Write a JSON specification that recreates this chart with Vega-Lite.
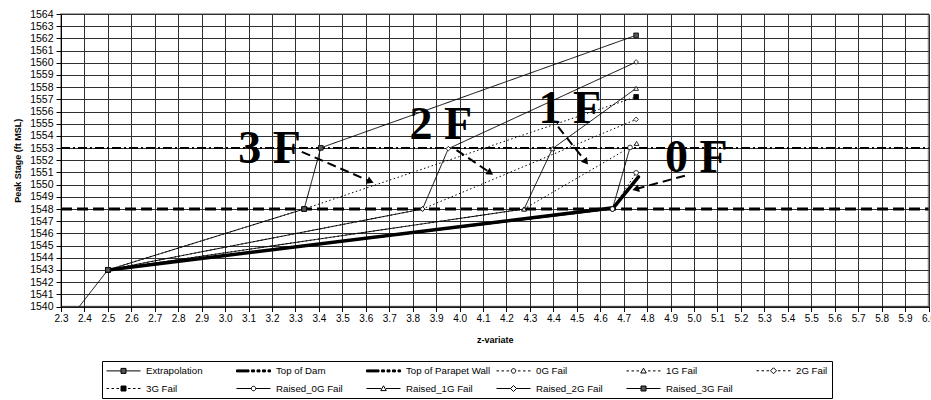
{
  "$schema": "https://vega.github.io/schema/vega-lite/v6.json",
  "width": 867.5,
  "height": 292.5,
  "autosize": {"type": "none"},
  "padding": {"left": 61, "top": 14, "right": 2.5, "bottom": 93.5},
  "background": "white",
  "config": {
    "font": "Liberation Sans",
    "view": {"stroke": "#888", "strokeWidth": 1.5},
    "axis": {
      "labelFont": "Liberation Sans",
      "labelColor": "black",
      "labelFontSize": 10,
      "titleFont": "Liberation Sans",
      "titleFontSize": 9,
      "titleFontWeight": "bold",
      "titleColor": "black",
      "domainColor": "black",
      "tickColor": "black",
      "tickSize": 5,
      "labelPadding": 2,
      "grid": true,
      "gridColor": "#303030",
      "gridWidth": 1,
      "labelOverlap": false,
      "labelFlush": false
    },
    "legend": {
      "columns": 6,
      "direction": "horizontal",
      "gridAlign": "all",
      "symbolSize": 100,
      "symbolOffset": 12,
      "symbolStrokeWidth": 1,
      "labelFont": "Liberation Sans",
      "labelFontSize": 9.7,
      "labelColor": "black",
      "labelOffset": 17,
      "labelLimit": 200,
      "strokeColor": "black",
      "padding": 4,
      "rowPadding": 7,
      "columnPadding": 3
    }
  },
  "datasets": {
    "series": [
      {"series": "Extrapolation", "x": 2.3, "y": 1538.08},
      {"series": "Extrapolation", "x": 2.5, "y": 1543},
      {"series": "Top of Dam", "x": 2.3, "y": 1548},
      {"series": "Top of Dam", "x": 6.0, "y": 1548},
      {"series": "Top of Parapet Wall", "x": 2.3, "y": 1553},
      {"series": "Top of Parapet Wall", "x": 6.0, "y": 1553},
      {"series": "0G Fail", "x": 2.5, "y": 1543},
      {"series": "0G Fail", "x": 4.652, "y": 1548},
      {"series": "0G Fail", "x": 4.753, "y": 1550.97},
      {"series": "1G Fail", "x": 2.5, "y": 1543},
      {"series": "1G Fail", "x": 4.275, "y": 1548},
      {"series": "1G Fail", "x": 4.755, "y": 1553.38},
      {"series": "2G Fail", "x": 2.5, "y": 1543},
      {"series": "2G Fail", "x": 3.842, "y": 1548},
      {"series": "2G Fail", "x": 4.753, "y": 1555.35},
      {"series": "3G Fail", "x": 2.5, "y": 1543},
      {"series": "3G Fail", "x": 3.337, "y": 1548},
      {"series": "3G Fail", "x": 4.753, "y": 1557.2},
      {"series": "Raised_0G Fail", "x": 2.5, "y": 1543},
      {"series": "Raised_0G Fail", "x": 4.652, "y": 1548},
      {"series": "Raised_0G Fail", "x": 4.727, "y": 1553.05},
      {"series": "Raised_1G Fail", "x": 2.5, "y": 1543},
      {"series": "Raised_1G Fail", "x": 4.275, "y": 1548},
      {"series": "Raised_1G Fail", "x": 4.396, "y": 1552.95},
      {"series": "Raised_1G Fail", "x": 4.753, "y": 1557.9},
      {"series": "Raised_2G Fail", "x": 2.5, "y": 1543},
      {"series": "Raised_2G Fail", "x": 3.842, "y": 1548},
      {"series": "Raised_2G Fail", "x": 3.952, "y": 1552.95},
      {"series": "Raised_2G Fail", "x": 4.753, "y": 1560.06},
      {"series": "Raised_3G Fail", "x": 2.5, "y": 1543},
      {"series": "Raised_3G Fail", "x": 3.337, "y": 1548},
      {"series": "Raised_3G Fail", "x": 3.408, "y": 1553.02},
      {"series": "Raised_3G Fail", "x": 4.753, "y": 1562.25}
    ],
    "highlight": [
      {"x": 2.5, "y": 1543},
      {"x": 4.656, "y": 1548.1},
      {"x": 4.763, "y": 1550.64}
    ],
    "notes": [
      {"label": "3 F", "x": 3.19, "y": 1551.77},
      {"label": "2 F", "x": 3.92, "y": 1553.74},
      {"label": "1 F", "x": 4.47, "y": 1555.05},
      {"label": "0 F", "x": 5.01, "y": 1551.03}
    ],
    "arrows": [
      {"arrow": "3F", "part": "start", "x": 3.327, "y": 1552.69},
      {"arrow": "3F", "part": "end", "x": 3.62, "y": 1550.26},
      {"arrow": "2F", "part": "start", "x": 3.987, "y": 1552.83},
      {"arrow": "2F", "part": "end", "x": 4.131, "y": 1550.97},
      {"arrow": "1F", "part": "start", "x": 4.42, "y": 1554.75},
      {"arrow": "1F", "part": "end", "x": 4.539, "y": 1551.86},
      {"arrow": "0F", "part": "start", "x": 4.97, "y": 1550.78},
      {"arrow": "0F", "part": "end", "x": 4.751, "y": 1549.64}
    ]
  },
  "encoding": {
    "x": {
      "field": "x",
      "type": "quantitative",
      "scale": {"domain": [2.3, 6.0], "nice": false, "zero": false},
      "axis": {
        "title": "z-variate",
        "format": ".1f",
        "titlePadding": 12,
        "values": [2.3, 2.4, 2.5, 2.6, 2.7, 2.8, 2.9, 3.0, 3.1, 3.2, 3.3, 3.4, 3.5, 3.6, 3.7, 3.8, 3.9, 4.0, 4.1, 4.2, 4.3, 4.4, 4.5, 4.6, 4.7, 4.8, 4.9, 5.0, 5.1, 5.2, 5.3, 5.4, 5.5, 5.6, 5.7, 5.8, 5.9, 6.0]
      }
    },
    "y": {
      "field": "y",
      "type": "quantitative",
      "scale": {"domain": [1540, 1564], "nice": false, "zero": false},
      "axis": {
        "title": "Peak Stage (ft MSL)",
        "format": "d",
        "labelFontSize": 10.5,
        "labelPadding": 3,
        "titlePadding": 7,
        "values": [1540, 1541, 1542, 1543, 1544, 1545, 1546, 1547, 1548, 1549, 1550, 1551, 1552, 1553, 1554, 1555, 1556, 1557, 1558, 1559, 1560, 1561, 1562, 1563, 1564]
      }
    }
  },
  "layer": [
    {
      "data": {"name": "series"},
      "transform": [{"filter": "datum.series === 'Top of Dam'"}],
      "mark": {"type": "line", "color": "black", "strokeWidth": 3, "strokeDash": [11, 5]}
    },
    {
      "data": {"name": "series"},
      "transform": [{"filter": "datum.series === 'Top of Parapet Wall'"}],
      "mark": {"type": "line", "color": "black", "strokeWidth": 2, "strokeDash": [9, 3, 2, 3]}
    },
    {
      "data": {"name": "series"},
      "transform": [{"filter": "datum.series !== 'Top of Dam' && datum.series !== 'Top of Parapet Wall'"}],
      "mark": {"type": "line", "color": "black", "strokeWidth": 1, "clip": true},
      "encoding": {
        "strokeDash": {
          "field": "series",
          "type": "nominal",
          "legend": null,
          "scale": {
            "domain": ["Extrapolation", "0G Fail", "1G Fail", "2G Fail", "3G Fail", "Raised_0G Fail", "Raised_1G Fail", "Raised_2G Fail", "Raised_3G Fail"],
            "range": [[1, 0], [1.5, 2.5], [1.5, 2.5], [1.5, 2.5], [1.5, 2.5], [1, 0], [1, 0], [1, 0], [1, 0]]
          }
        }
      }
    },
    {
      "data": {"name": "highlight"},
      "mark": {"type": "line", "color": "black", "strokeWidth": 3.5, "strokeCap": "round"}
    },
    {
      "data": {"name": "series"},
      "transform": [{"filter": "datum.series !== 'Top of Dam' && datum.series !== 'Top of Parapet Wall'"}],
      "mark": {"type": "point", "filled": true, "opacity": 1, "stroke": "black", "strokeWidth": 0.8, "size": 22, "clip": true},
      "encoding": {
        "shape": {
          "field": "series",
          "type": "nominal",
          "legend": null,
          "scale": {
            "domain": ["Extrapolation", "0G Fail", "1G Fail", "2G Fail", "3G Fail", "Raised_0G Fail", "Raised_1G Fail", "Raised_2G Fail", "Raised_3G Fail"],
            "range": ["square", "circle", "triangle-up", "diamond", "square", "circle", "triangle-up", "diamond", "square"]
          }
        },
        "fill": {
          "field": "series",
          "type": "nominal",
          "legend": null,
          "scale": {
            "domain": ["Extrapolation", "0G Fail", "1G Fail", "2G Fail", "3G Fail", "Raised_0G Fail", "Raised_1G Fail", "Raised_2G Fail", "Raised_3G Fail"],
            "range": ["#555555", "white", "white", "white", "black", "white", "white", "white", "#555555"]
          }
        }
      }
    },
    {
      "data": {"name": "arrows"},
      "mark": {"type": "line", "color": "black", "strokeWidth": 2, "strokeDash": [9, 5]},
      "encoding": {"detail": {"field": "arrow", "type": "nominal"}}
    },
    {
      "data": {"name": "arrows"},
      "transform": [{"filter": "datum.part === 'end'"}],
      "mark": {"type": "point", "shape": "triangle-up", "filled": true, "opacity": 1, "color": "black", "size": 60},
      "encoding": {
        "angle": {
          "field": "arrow",
          "type": "nominal",
          "legend": null,
          "scale": {"type": "ordinal", "domain": ["3F", "2F", "1F", "0F"], "range": [113, 124, 142, 255]}
        }
      }
    },
    {
      "data": {"name": "notes"},
      "mark": {"type": "text", "font": "Liberation Serif", "fontWeight": "bold", "fontSize": 46, "align": "center", "baseline": "alphabetic", "color": "black"},
      "encoding": {"text": {"field": "label", "type": "nominal"}}
    },
    {
      "data": {"name": "series"},
      "transform": [{"filter": "false"}],
      "mark": {"type": "point", "filled": true, "opacity": 1, "stroke": "black", "strokeWidth": 1},
      "encoding": {
        "shape": {
          "field": "series",
          "type": "nominal",
          "title": null,
          "legend": {"orient": "none", "direction": "horizontal", "legendX": 41, "legendY": 347},
          "scale": {
            "domain": ["Extrapolation", "Top of Dam", "Top of Parapet Wall", "0G Fail", "1G Fail", "2G Fail", "3G Fail", "Raised_0G Fail", "Raised_1G Fail", "Raised_2G Fail", "Raised_3G Fail"],
            "range": [
              "M-3.4,0H-0.5M0.5,0H3.4M-0.5,-0.5H0.5V0.5H-0.5Z",
              "M-3.4,-0.2H-0.9V0.2H-3.4ZM-0.4,-0.2H0.2V0.2H-0.4ZM0.7,-0.2H1.3V0.2H0.7ZM1.8,-0.2H2.4V0.2H1.8ZM2.9,-0.2H3.4V0.2H2.9Z",
              "M-3.4,-0.2H-0.9V0.2H-3.4ZM-0.4,-0.2H0.2V0.2H-0.4ZM0.7,-0.2H1.3V0.2H0.7ZM1.8,-0.2H2.4V0.2H1.8ZM2.9,-0.2H3.4V0.2H2.9Z",
              "M-3.4,0H-2.9M-2.4,0H-1.9M-1.4,0H-0.9M0.9,0H1.4M1.9,0H2.4M2.9,0H3.4M0.45,0A0.45,0.45,0,1,1,-0.45,0A0.45,0.45,0,1,1,0.45,0Z",
              "M-3.4,0H-2.9M-2.4,0H-1.9M-1.4,0H-0.9M0.9,0H1.4M1.9,0H2.4M2.9,0H3.4M0,-0.55L0.55,0.42H-0.55Z",
              "M-3.4,0H-2.9M-2.4,0H-1.9M-1.4,0H-0.9M0.9,0H1.4M1.9,0H2.4M2.9,0H3.4M0,-0.6L0.6,0L0,0.6L-0.6,0Z",
              "M-3.4,0H-2.9M-2.4,0H-1.9M-1.4,0H-0.9M0.9,0H1.4M1.9,0H2.4M2.9,0H3.4M-0.5,-0.5H0.5V0.5H-0.5Z",
              "M-3.4,0H-0.45M0.45,0H3.4M0.45,0A0.45,0.45,0,1,1,-0.45,0A0.45,0.45,0,1,1,0.45,0Z",
              "M-3.4,0H-0.5M0.5,0H3.4M0,-0.55L0.55,0.42H-0.55Z",
              "M-3.4,0H-0.6M0.6,0H3.4M0,-0.6L0.6,0L0,0.6L-0.6,0Z",
              "M-3.4,0H-0.5M0.5,0H3.4M-0.5,-0.5H0.5V0.5H-0.5Z"
            ]
          }
        },
        "fill": {
          "field": "series",
          "type": "nominal",
          "title": null,
          "legend": {"orient": "none", "direction": "horizontal", "legendX": 41, "legendY": 347},
          "scale": {
            "domain": ["Extrapolation", "Top of Dam", "Top of Parapet Wall", "0G Fail", "1G Fail", "2G Fail", "3G Fail", "Raised_0G Fail", "Raised_1G Fail", "Raised_2G Fail", "Raised_3G Fail"],
            "range": ["#555555", "black", "black", "white", "white", "white", "black", "white", "white", "white", "#555555"]
          }
        }
      }
    }
  ],
  "resolve": {"scale": {"shape": "independent", "fill": "independent", "strokeDash": "independent", "angle": "independent"}}
}
